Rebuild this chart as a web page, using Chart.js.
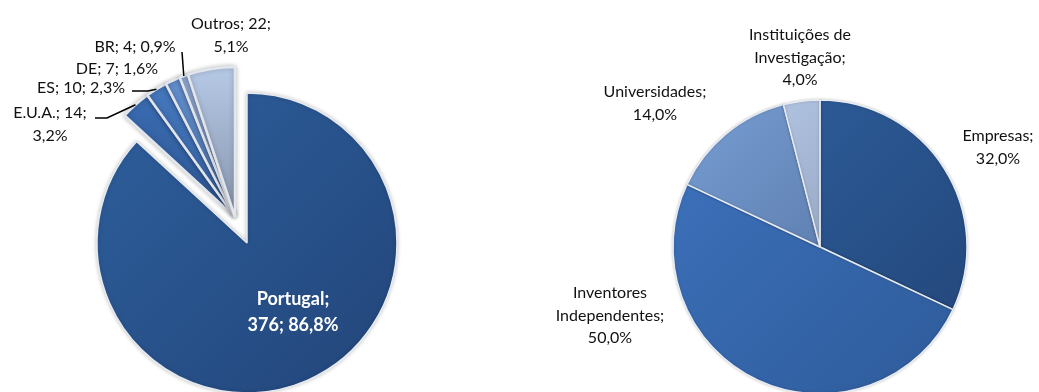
<!DOCTYPE html>
<html>
<head>
<meta charset="utf-8">
<script src="https://cdn.jsdelivr.net/npm/chart.js@4"></script>
<style>
    html, body { margin: 0; padding: 0; background: #fff; overflow: hidden; }
    #wrap { position: relative; width: 1039px; height: 392px; overflow: hidden; }
    #wrap canvas { position: absolute; }
</style>
</head>
<body>
<div id="wrap">
    <canvas id="paisMain" width="494" height="486" style="left:0;top:0"></canvas>
    <canvas id="paisResto" width="470" height="434" style="left:0;top:0"></canvas>
    <canvas id="requerentes" width="560" height="494" style="left:540px;top:0"></canvas>
</div>
<script>
// Pedidos por país de origem
const paises = ['Portugal', 'E.U.A.', 'ES', 'DE', 'BR', 'Outros'];
const pedidos = [376, 14, 10, 7, 4, 22];

// Tipo de requerente (%)
const requerentes = ['Empresas', 'Inventores Independentes', 'Universidades', 'Instituições de Investigação'];
const quotas = [32, 50, 14, 4];

// Colours: [light, dark] for each slice gradient
const paisCores = [
    ['#2c5b97', '#24497f'],
    ['#3d70b8', '#2d5794'],
    ['#4679c0', '#3764a3'],
    ['#6390cf', '#4f77b0'],
    ['#95afda', '#7a93bd'],
    ['#b6c9e6', '#8795ad']
];
const requerenteCores = [
    ['#2d5c99', '#24497e'],
    ['#3b6fb8', '#305e9f'],
    ['#7196cb', '#4f6b97'],
    ['#b2c5e3', '#7e8ea8']
];

// Label layout, relative to the pie centre: first line position and words per line
const paisLabels = [
    { dx: 46, dy: 56, words: [1, 2], bold: true },
    { dx: -185, dy: -104, words: [2, 1], leader: [-140, -99, -128] },
    { dx: -154, dy: -129, words: [3], leader: [-103, -126, -87] },
    { dx: -118, dy: -148, words: [3] },
    { dx: -100, dy: -170, words: [3], leader: [-53, -165, -53] },
    { dx: -4, dy: -193, words: [2, 1] }
];
const requerenteLabels = [
    { dx: 178, dy: -111, words: [1, 1] },
    { dx: -210, dy: 46, words: [1, 1, 1] },
    { dx: -165, dy: -155, words: [1, 1] },
    { dx: -20, dy: -212, words: [2, 1, 1] }
];

const LINE_HEIGHT = 22.5;

function pct(values, i) {
    const total = values.reduce((a, b) => a + b, 0);
    return (values[i] / total * 100).toFixed(1).replace('.', ',') + '%';
}

function splitWords(text, words) {
    const parts = text.split(' ');
    const lines = [];
    let k = 0;
    words.forEach((n, j) => {
        const take = j === words.length - 1 ? parts.length - k : n;
        lines.push(parts.slice(k, k + take).join(' '));
        k += take;
    });
    return lines;
}

/**
 * Linear gradient across the pie, from (x0,y0) to (x1,y1) in radius units
 */
function gradiente(cores, radius, dir) {
    return function(context) {
        const chart = context.chart;
        const area = chart.chartArea;
        const pair = cores[context.dataIndex];
        if (!area) return pair[0];
        const cx = (area.left + area.right) / 2;
        const cy = (area.top + area.bottom) / 2;
        const g = chart.ctx.createLinearGradient(
            cx + dir[0] * radius, cy + dir[1] * radius,
            cx + dir[2] * radius, cy + dir[3] * radius);
        g.addColorStop(0, pair[0]);
        g.addColorStop(1, pair[1]);
        return g;
    };
}

// Soft shadow around the slices
const sombra = {
    id: 'sombra',
    beforeDatasetsDraw(chart, args, opts) {
        const ctx = chart.ctx;
        ctx.save();
        ctx.shadowColor = opts.color || 'rgba(0,0,0,0.25)';
        ctx.shadowBlur = opts.blur || 4;
    },
    afterDatasetsDraw(chart) {
        chart.ctx.restore();
    }
};

// Data labels with optional leader lines
const rotulos = {
    id: 'rotulos',
    afterDraw(chart, args, opts) {
        if (!opts.items) return;
        const ctx = chart.ctx;
        const arcs = chart.getDatasetMeta(0).data;
        ctx.save();
        opts.items.forEach((item, i) => {
            if (!item || !opts.show(i)) return;
            const arc = arcs[i];
            const cx = arc.x, cy = arc.y;
            const lines = splitWords(opts.text(i), item.words);
            ctx.font = (item.bold ? 'bold 18px' : '16px') + ' Lato, "Open Sans", sans-serif';
            ctx.fillStyle = item.bold ? '#ffffff' : '#111111';
            ctx.textAlign = 'center';
            ctx.textBaseline = 'middle';
            const lh = item.bold ? 26 : LINE_HEIGHT;
            lines.forEach((line, j) => {
                ctx.fillText(line, cx + item.dx, cy + item.dy + j * lh);
            });
            if (item.leader) {
                const mid = (arc.startAngle + arc.endAngle) / 2;
                const px = cx + Math.cos(mid) * arc.outerRadius;
                const py = cy + Math.sin(mid) * arc.outerRadius;
                const [sx, sy, ex] = item.leader;
                ctx.strokeStyle = '#000000';
                ctx.lineWidth = 1.5;
                ctx.beginPath();
                ctx.moveTo(cx + sx, cy + sy);
                ctx.lineTo(cx + ex, cy + sy);
                ctx.lineTo(px, py);
                ctx.stroke();
            }
        });
        ctx.restore();
    }
};

const baseOptions = {
    responsive: false,
    animation: false,
    events: [],
    layout: { padding: 0 }
};

function paisLabel(i) {
    return paises[i] + '; ' + pedidos[i] + '; ' + pct(pedidos, i);
}

// Portugal slice, pulled out along its bisector
new Chart(document.getElementById('paisMain'), {
    type: 'pie',
    data: {
        labels: paises,
        datasets: [{
            data: pedidos,
            backgroundColor: (c) => c.dataIndex === 0 ? gradiente(paisCores, 150, [-0.7, -0.7, 0.7, 0.7])(c) : 'rgba(0,0,0,0)',
            borderColor: (c) => c.dataIndex === 0 ? '#e6eaf0' : 'rgba(0,0,0,0)',
            borderWidth: (c) => c.dataIndex === 0 ? 1.5 : 0
        }]
    },
    options: Object.assign({}, baseOptions, {
        radius: 150,
        plugins: {
            legend: { display: false },
            tooltip: { enabled: false },
            sombra: { color: 'rgba(0,0,0,0.22)', blur: 4 },
            rotulos: { items: paisLabels, show: i => i === 0, text: paisLabel }
        }
    }),
    plugins: [sombra, rotulos]
});

// Remaining countries
new Chart(document.getElementById('paisResto'), {
    type: 'pie',
    data: {
        labels: paises,
        datasets: [{
            data: pedidos,
            backgroundColor: (c) => c.dataIndex === 0 ? 'rgba(0,0,0,0)' : gradiente(paisCores, 150, [0, -1, 0, 0])(c),
            borderColor: (c) => c.dataIndex === 0 ? 'rgba(0,0,0,0)' : '#e2e6ec',
            borderWidth: (c) => c.dataIndex === 0 ? 0 : 2.5
        }]
    },
    options: Object.assign({}, baseOptions, {
        radius: 150,
        plugins: {
            legend: { display: false },
            tooltip: { enabled: false },
            sombra: { color: 'rgba(0,0,0,0.25)', blur: 5 },
            rotulos: { items: paisLabels, show: i => i > 0, text: paisLabel }
        }
    }),
    plugins: [sombra, rotulos]
});

new Chart(document.getElementById('requerentes'), {
    type: 'pie',
    data: {
        labels: requerentes,
        datasets: [{
            data: quotas,
            backgroundColor: gradiente(requerenteCores, 147, [-0.7, -0.7, 0.7, 0.7]),
            borderColor: '#e8ecf2',
            borderWidth: 1.5
        }]
    },
    options: Object.assign({}, baseOptions, {
        radius: 147,
        plugins: {
            legend: { display: false },
            tooltip: { enabled: false },
            sombra: { color: 'rgba(0,0,0,0.2)', blur: 3 },
            rotulos: {
                items: requerenteLabels,
                show: () => true,
                text: i => requerentes[i] + '; ' + pct(quotas, i)
            }
        }
    }),
    plugins: [sombra, rotulos]
});
</script>
</body>
</html>
